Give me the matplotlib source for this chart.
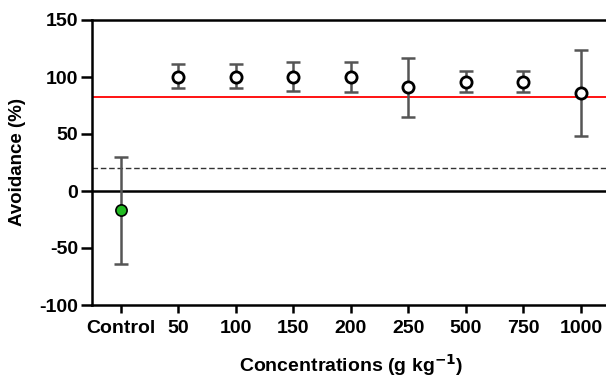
import numpy as np
import matplotlib.pyplot as plt

plt.rcParams['font.family'] = ['Liberation Sans', 'DejaVu Sans']
plt.rcParams['axes.unicode_minus'] = False

labels = ['Control', '50', '100', '150', '200', '250', '500', '750', '1000']
means = [-17, 100, 100, 100, 100, 91, 96, 96, 86]
err_low = [47, 10, 10, 12, 13, 26, 9, 9, 38]
err_high = [47, 11, 11, 13, 13, 26, 9.5, 9.5, 38]
red_level = 82.5
dash_level = 20

fig = plt.figure(figsize=(6.06, 3.82), dpi=100)
ax = fig.add_axes([92/606, 77/382, (609.6-92)/606, 285/382])

x = np.arange(len(labels))
ax.errorbar(x, means, yerr=[err_low, err_high], fmt='none', ecolor='#555555',
            elinewidth=1.8, capsize=5, capthick=1.8, zorder=3)
ax.scatter(x[1:], means[1:], s=65, facecolor='white', edgecolor='black', linewidth=2, zorder=4)
ax.scatter(x[:1], means[:1], s=65, facecolor='#22bb22', edgecolor='black', linewidth=1.2, zorder=4)

ax.axhline(red_level, color='red', linewidth=1.3, zorder=2)
ax.axhline(dash_level, color='#333333', linewidth=1, linestyle=(0, (4, 2)), zorder=2)
ax.axhline(0, color='black', linewidth=1.8, zorder=2)

ax.set_xlim(-0.5, 8.5)
ax.set_ylim(-100, 150)
ax.set_yticks([-100, -50, 0, 50, 100, 150])
ax.set_xticks(x)
ax.set_xticklabels(labels)

for s in ['left', 'top', 'bottom']:
    ax.spines[s].set_linewidth(1.8)
ax.spines['right'].set_visible(False)
ax.tick_params(axis='both', width=1.8, labelsize=14, direction='out')
ax.tick_params(axis='y', length=8, pad=2)
ax.tick_params(axis='x', length=6, pad=5)
for t in ax.get_xticklabels() + ax.get_yticklabels():
    t.set_fontweight('bold')

ax.set_ylabel('Avoidance (%)', fontsize=13.5, fontweight='bold')
ax.yaxis.set_label_coords(-0.128, 0.5)
ax.set_xlabel('Concentrations (g kg$^{\\mathbf{-1}}$)', fontsize=14, fontweight='bold')
ax.xaxis.set_label_coords(0.5, -0.165)

fig.savefig('out.png', dpi=100)
